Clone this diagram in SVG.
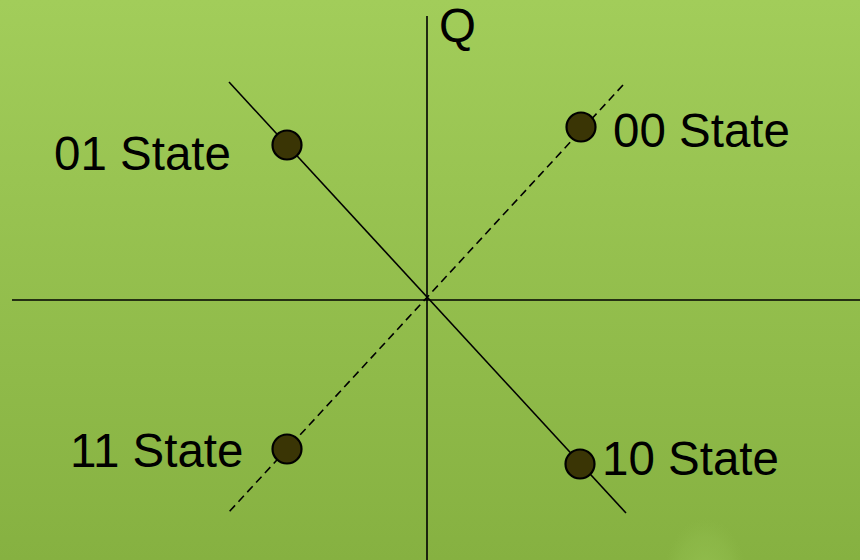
<svg xmlns="http://www.w3.org/2000/svg" width="860" height="560" viewBox="0 0 860 560">
<defs>
<linearGradient id="bg" x1="0" y1="0" x2="0" y2="1">
<stop offset="0" stop-color="#a2cd5a"/>
<stop offset="1" stop-color="#86b141"/>
</linearGradient>
<radialGradient id="glow" cx="0.5" cy="0.5" r="0.5">
<stop offset="0" stop-color="#96c252" stop-opacity="0.8"/>
<stop offset="0.7" stop-color="#92be4e" stop-opacity="0.4"/>
<stop offset="1" stop-color="#8fbb4a" stop-opacity="0"/>
</radialGradient>
<style>
.axis{stroke:#000;stroke-width:1.6;fill:none}
.solid{stroke:#000;stroke-width:1.6;fill:none}
.dash{stroke:#000;stroke-width:1.6;fill:none;stroke-dasharray:8 5}
.pt{fill:#3a3505;stroke:#000;stroke-width:2.2}
.lbl{font-family:"Liberation Sans",Arial,sans-serif;font-size:47.5px;fill:#000}
</style>
</defs>
<rect width="860" height="560" fill="url(#bg)"/>
<ellipse cx="705" cy="580" rx="42" ry="62" fill="url(#glow)"/>
<g id="connectors">
<line class="axis" x1="427" y1="16" x2="427" y2="560"/>
<line class="axis" x1="12" y1="300" x2="860" y2="300"/>
<line class="solid" x1="229" y1="82" x2="626" y2="513"/>
<line class="dash" x1="623" y1="85" x2="228" y2="513"/>
</g>
<g id="q-label"><text class="lbl" x="439" y="42">Q</text></g>
<g id="state01"><circle class="pt" cx="287" cy="145" r="14.5"/><text class="lbl" x="54" y="170">01 State</text></g>
<g id="state00"><circle class="pt" cx="581" cy="127" r="14.5"/><text class="lbl" x="613" y="147">00 State</text></g>
<g id="state11"><circle class="pt" cx="287" cy="449" r="14.5"/><text class="lbl" x="70" y="467">11 State</text></g>
<g id="state10"><circle class="pt" cx="580" cy="464" r="14.5"/><text class="lbl" x="602" y="475">10 State</text></g>
</svg>
